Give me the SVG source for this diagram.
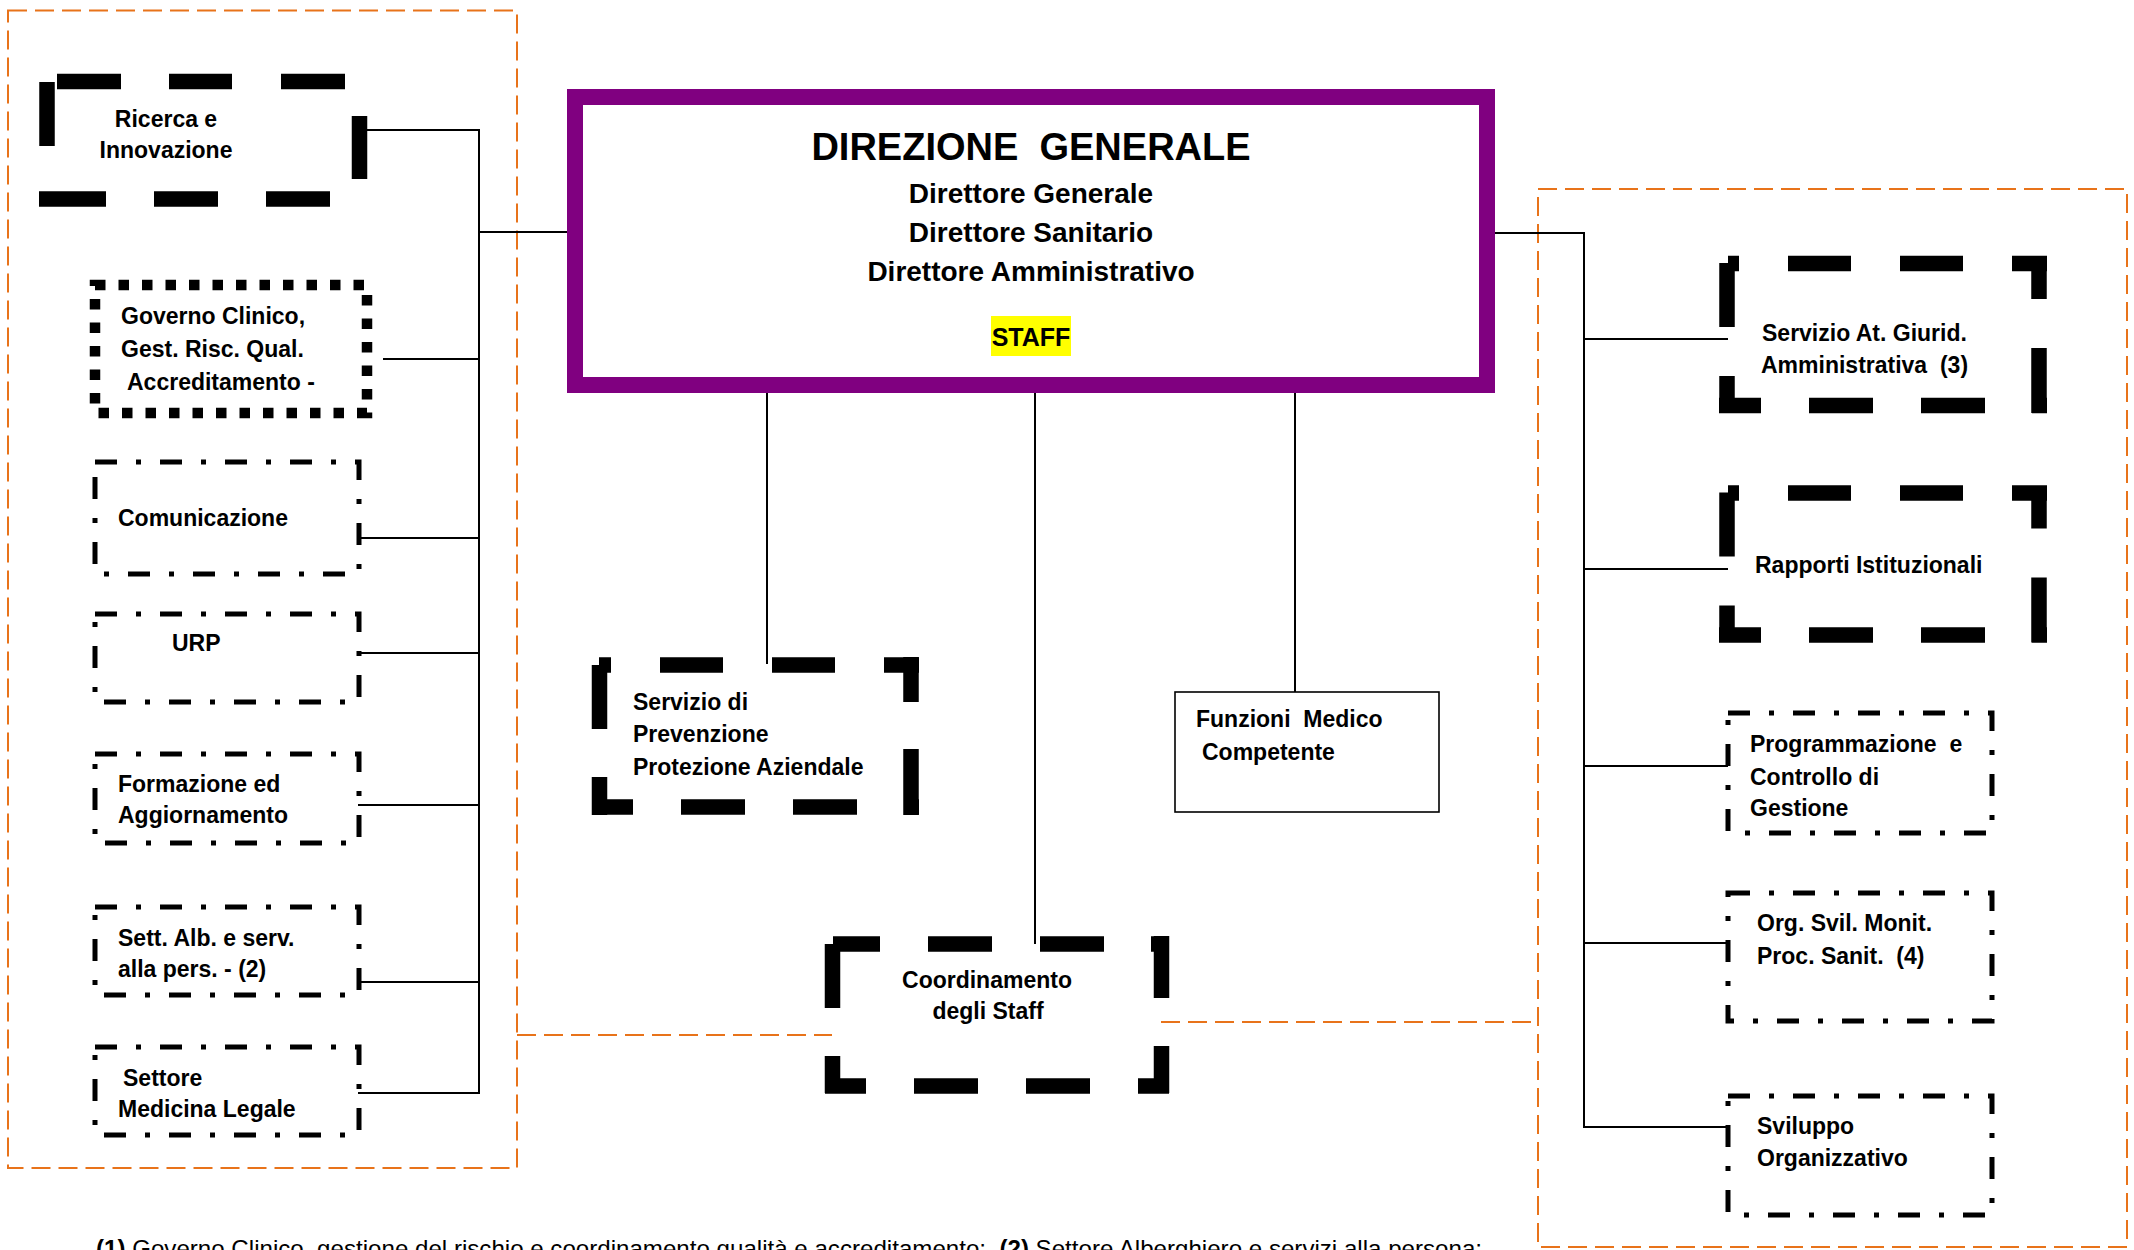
<svg xmlns="http://www.w3.org/2000/svg" width="2134" height="1250" viewBox="0 0 2134 1250">
<style>
  .bg{fill:#ffffff}
  .orange{fill:none;stroke:#E8731A;stroke-width:2;stroke-dasharray:19 8}
  .conn{fill:none;stroke:#000;stroke-width:2}
  .thick{fill:none;stroke:#000;stroke-width:15.5;stroke-linecap:butt}
  .dotted{fill:none;stroke:#000;stroke-width:10.5;stroke-dasharray:10.5 13}
  .dashdot{fill:none;stroke:#000;stroke-width:5;stroke-dasharray:22 19 5 19}
  .thin{fill:none;stroke:#000;stroke-width:1.6}
  .dg{fill:#fff;stroke:#800080;stroke-width:16}
  text{font-family:"Liberation Sans",Arial,sans-serif;font-weight:bold;fill:#000}
  .lbl{font-size:23px}
  .mid{text-anchor:middle}
  .title{font-size:38px}
  .sub{font-size:28px}
  .staff{font-size:25px}
  .foot{font-size:24px;font-weight:normal}
</style>
<rect class="bg" x="0" y="0" width="2134" height="1250"/>

<g id="groups">
  <rect class="orange" x="8" y="10.5" width="509" height="1157.5"/>
  <rect class="orange" x="1538" y="189" width="589" height="1058"/>
</g>

<g id="connectors">
  <path class="conn" d="M367 130 H479 V1093 H358 M479 232 H575 M383 359 H479 M359 538 H479 M359 653 H479 M358 805 H479 M358 982 H479"/>
  <path class="conn" d="M1487 233 H1584 V1127 H1728 M1584 339 H1728 M1584 569 H1728 M1584 766 H1728 M1584 943 H1728"/>
  <path class="conn" d="M767 393 V664 M1035 393 V944 M1295 393 V692"/>
  <path class="orange" d="M517 1035 H832 M1161 1022 H1538"/>
</g>

<g id="dg">
  <rect class="dg" x="575" y="97" width="912" height="288"/>
  <text class="title mid" x="1031" y="160">DIREZIONE&#160; GENERALE</text>
  <text class="sub mid" x="1031" y="203">Direttore Generale</text>
  <text class="sub mid" x="1031" y="242">Direttore Sanitario</text>
  <text class="sub mid" x="1031" y="281">Direttore Amministrativo</text>
  <rect x="991" y="316" width="80" height="40" fill="#FFFF00"/>
  <text class="staff mid" x="1031" y="346">STAFF</text>
</g>

<g id="ricerca">
  <path class="thick" d="M57 81.5 H121 M169 81.5 H232 M281 81.5 H345 M359.5 116 V179 M39 199 H106 M154 199 H218 M266 199 H330 M47 82 V146"/>
  <text class="lbl mid" x="166" y="127">Ricerca e</text>
  <text class="lbl mid" x="166" y="158">Innovazione</text>
</g>

<g id="governo">
  <rect class="dotted" x="95" y="285" width="272" height="128"/>
  <text class="lbl" x="121" y="324">Governo Clinico,</text>
  <text class="lbl" x="121" y="357">Gest. Risc. Qual.</text>
  <text class="lbl" x="127" y="390">Accreditamento -</text>
</g>

<g id="comunicazione">
  <rect class="dashdot" x="95" y="462" width="264" height="112"/>
  <text class="lbl" x="118" y="526">Comunicazione</text>
</g>

<g id="urp">
  <rect class="dashdot" x="95" y="614" width="264" height="88"/>
  <text class="lbl" x="172" y="651">URP</text>
</g>

<g id="formazione">
  <rect class="dashdot" x="95" y="754" width="264" height="89"/>
  <text class="lbl" x="118" y="792">Formazione ed</text>
  <text class="lbl" x="118" y="823">Aggiornamento</text>
</g>

<g id="settalb">
  <rect class="dashdot" x="95" y="907" width="264" height="88"/>
  <text class="lbl" x="118" y="946">Sett. Alb. e serv.</text>
  <text class="lbl" x="118" y="977">alla pers. - (2)</text>
</g>

<g id="medlegale">
  <rect class="dashdot" x="95" y="1047" width="264" height="88"/>
  <text class="lbl" x="123" y="1086">Settore</text>
  <text class="lbl" x="118" y="1117">Medicina Legale</text>
</g>

<g id="prevenzione">
  <path class="thick" d="M599 665 H611 M660 665 H723 M772 665 H835 M884 665 H919 M911 657 V702 M911 749 V815 M592 807 H633 M681 807 H745 M793 807 H857 M905 807 H919 M599.5 665 V729 M599.5 777 V815"/>
  <text class="lbl" x="633" y="710">Servizio di</text>
  <text class="lbl" x="633" y="742">Prevenzione</text>
  <text class="lbl" x="633" y="775">Protezione Aziendale</text>
</g>

<g id="medico">
  <rect class="thin" x="1175" y="692" width="264" height="120"/>
  <text class="lbl" x="1196" y="727">Funzioni&#160; Medico</text>
  <text class="lbl" x="1202" y="760">Competente</text>
</g>

<g id="coordinamento">
  <path class="thick" d="M833 944 H880 M928 944 H992 M1040 944 H1104 M1151 944 H1169 M1161.5 936 V998 M1161.5 1046 V1093 M825 1086 H866 M914 1086 H978 M1026 1086 H1090 M1138 1086 H1169 M832.5 944 V1008 M832.5 1056 V1093"/>
  <text class="lbl mid" x="987" y="988">Coordinamento</text>
  <text class="lbl mid" x="988" y="1019">degli Staff</text>
</g>

<g id="giuridica">
  <path class="thick" d="M1728 263.5 H1739 M1788 263.5 H1851 M1900 263.5 H1963 M2012 263.5 H2047 M2039 256 V299 M2039 348 V413 M1719 405.5 H1761 M1809 405.5 H1873 M1921 405.5 H1985 M2032 405.5 H2047 M1727 263 V327 M1727 376 V413"/>
  <text class="lbl" x="1762" y="341">Servizio At. Giurid.</text>
  <text class="lbl" x="1761" y="373">Amministrativa&#160; (3)</text>
</g>

<g id="rapporti">
  <path class="thick" d="M1728 493 H1739 M1788 493 H1851 M1900 493 H1963 M2012 493 H2047 M2039 485.5 V528.5 M2039 577.5 V642.5 M1719 635 H1761 M1809 635 H1873 M1921 635 H1985 M2032 635 H2047 M1727 492.5 V556.5 M1727 605.5 V642.5"/>
  <text class="lbl" x="1755" y="573">Rapporti Istituzionali</text>
</g>

<g id="programmazione">
  <rect class="dashdot" x="1728" y="713" width="264" height="120"/>
  <text class="lbl" x="1750" y="752">Programmazione&#160; e</text>
  <text class="lbl" x="1750" y="785">Controllo di</text>
  <text class="lbl" x="1750" y="816">Gestione</text>
</g>

<g id="orgsvil">
  <rect class="dashdot" x="1728" y="893" width="264" height="128"/>
  <text class="lbl" x="1757" y="931">Org. Svil. Monit.</text>
  <text class="lbl" x="1757" y="964">Proc. Sanit.&#160; (4)</text>
</g>

<g id="sviluppo">
  <rect class="dashdot" x="1728" y="1096" width="264" height="119"/>
  <text class="lbl" x="1757" y="1134">Sviluppo</text>
  <text class="lbl" x="1757" y="1166">Organizzativo</text>
</g>

<g id="footnote">
  <text class="foot" x="96" y="1257" textLength="1386" lengthAdjust="spacingAndGlyphs"><tspan font-weight="bold">(1)</tspan> Governo Clinico, gestione del rischio e coordinamento qualità e accreditamento;&#160; <tspan font-weight="bold">(2)</tspan> Settore Alberghiero e servizi alla persona;</text>
</g>
</svg>
